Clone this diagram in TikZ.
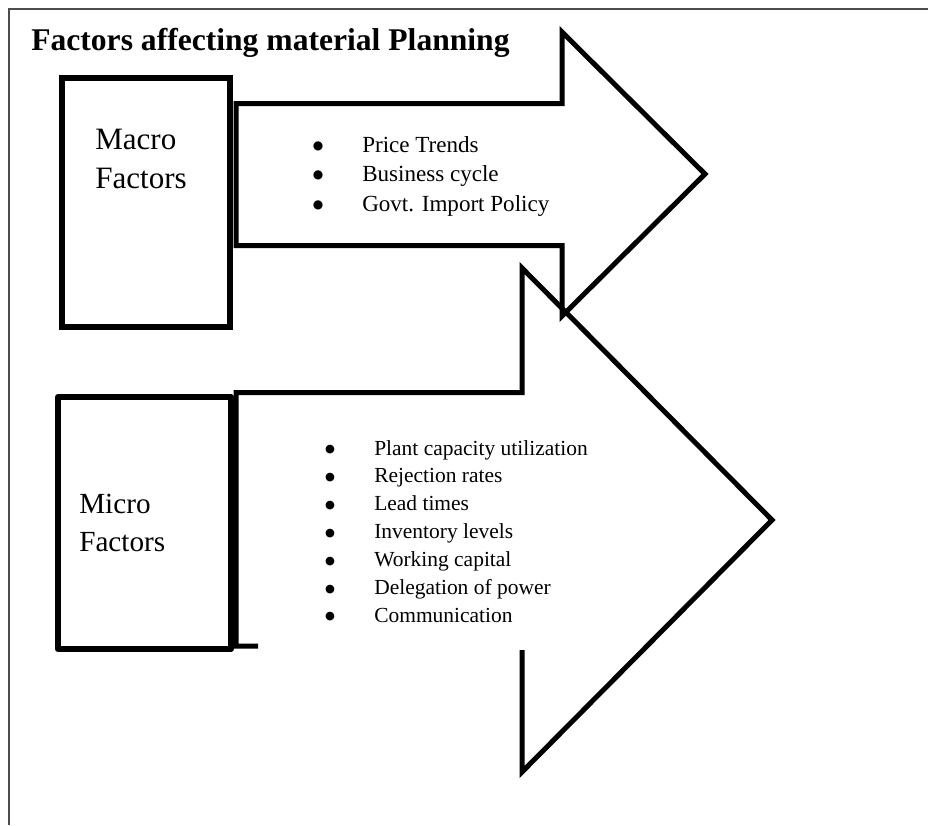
\documentclass[tikz,border=0pt]{standalone}
\usepackage{fontspec}
\setmainfont{Liberation Serif}
\newfontfamily\dotfont{DejaVu Sans}
\begin{document}
\begin{tikzpicture}[x=0.75pt,y=-0.75pt,
  frameline/.style={line width=1.3pt, color=black!70},
  boxline/.style={line width=4.5pt},
  arrowline/.style={line width=3.75pt, miter limit=10},
  lbl/.style={inner sep=0pt, anchor=base west},
  dot/.style={inner sep=0pt, anchor=base},
  titlefont/.style={font=\fontsize{23.7}{28}\selectfont\bfseries},
  macrofont/.style={font=\fontsize{23.3}{28}\selectfont},
  microfont/.style={font=\fontsize{21.9}{26}\selectfont},
  macrolist/.style={font=\fontsize{17.3}{21}\selectfont},
  microlist/.style={font=\fontsize{16.1}{20}\selectfont},
  macrodot/.style={font=\dotfont\fontsize{9.0}{10}\selectfont},
  microdot/.style={font=\dotfont\fontsize{8.5}{10}\selectfont}]
\useasboundingbox (0,0) rectangle (928,825);

% page frame (top and left edges only)
\draw[frameline] (9,825) -- (9,9) -- (928,9);

% heading
\node[lbl, titlefont] (title) at (31,50) {Factors affecting material Planning};

% macro factors: box and arrow
\draw[boxline] (62,78) rectangle (230,327);
\node[lbl, macrofont] (macro1) at (95,149) {Macro};
\node[lbl, macrofont] (macro2) at (95,188) {Factors};
\draw[arrowline] (236,103.5) -- (562,103.5) -- (562,32) -- (705,174)
  -- (562,316) -- (562,245.5) -- (236,245.5) -- cycle;

% bullet markers sit a little above the text baseline
\foreach \t [count=\i] in {Price Trends, Business cycle, Govt. Import Policy} {
  \node[dot, macrodot] (macdot\i) at (318,{149+29.5*(\i-1)}) {●};
  \node[lbl, macrolist] (macitem\i) at (362,{152+29.5*(\i-1)}) {\t};
}

% micro factors: box and arrow
\draw[boxline, line join=round] (58,397) rectangle (231,649);
\node[lbl, microfont] (micro1) at (79,513) {Micro};
\node[lbl, microfont] (micro2) at (79,551) {Factors};
\draw[arrowline] (258,646) -- (236,646) -- (236,392.5) -- (522,392.5)
  -- (522,268) -- (772,520) -- (522,772) -- (522,650);

\foreach \t [count=\i] in {Plant capacity utilization, Rejection rates, Lead times,
    Inventory levels, Working capital, Delegation of power, Communication} {
  \node[dot, microdot] (micdot\i) at (330,{452.5+27.9*(\i-1)}) {●};
  \node[lbl, microlist] (micitem\i) at (374,{455+27.9*(\i-1)}) {\t};
}
\end{tikzpicture}
\end{document}
